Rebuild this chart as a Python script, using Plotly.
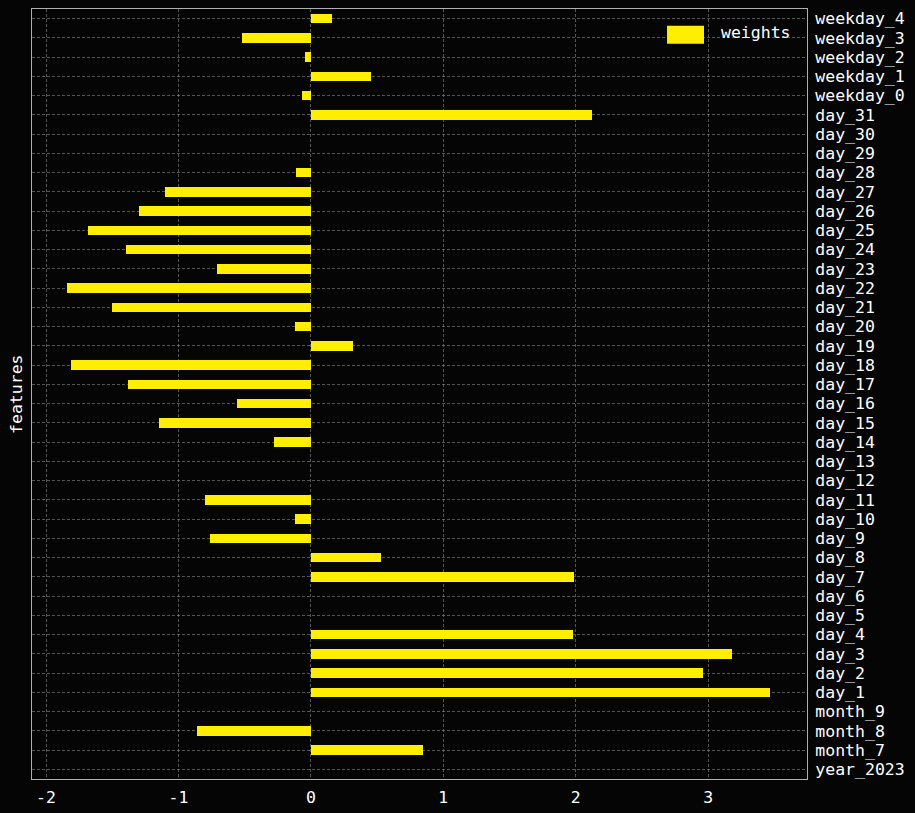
import plotly.graph_objects as go

features = ["year_2023", "month_7", "month_8", "month_9"] + \
    [f"day_{i}" for i in range(1, 32)] + [f"weekday_{i}" for i in range(5)]

weights = [
    0.0, 0.85, -0.86, 0.0,
    # day_1 .. day_31
    3.47, 2.96, 3.18, 1.98, 0.0, 0.0, 1.99, 0.527, -0.765, -0.12,
    -0.80, 0.0, 0.0, -0.28, -1.15, -0.56, -1.38, -1.81, 0.32, -0.12,
    -1.50, -1.84, -0.71, -1.40, -1.685, -1.30, -1.10, -0.115, 0.0, 0.0,
    2.125,
    # weekday_0 .. weekday_4
    -0.064, 0.457, -0.047, -0.52, 0.157,
]

x_ticks = [-2, -1, 0, 1, 2, 3]
legend_label = "weights"
bar_color = "#ffee00"
bg = "#050505"
font = "DejaVu Sans Mono"
grid_color = "rgba(150,150,150,0.55)"
spine = "#b0b0b0"

fig = go.Figure()
fig.add_trace(go.Bar(
    x=weights, y=features, orientation="h", width=0.5,
    marker=dict(color=bar_color, line=dict(width=0)),
    name=legend_label, showlegend=False,
))

fig.update_layout(
    width=915, height=813,
    margin=dict(l=32, r=108, t=9, b=34, autoexpand=False),
    paper_bgcolor=bg, plot_bgcolor=bg,
    font=dict(family=font, color="white", size=16.5),
    bargap=0,
)
fig.update_xaxes(
    range=[-2.106, 3.746], tickvals=x_ticks, ticktext=[str(t) for t in x_ticks],
    showgrid=True, gridcolor=grid_color, gridwidth=1, griddash="3px,2px",
    zeroline=False, showline=True, linecolor=spine, linewidth=1, mirror=True,
    ticks="outside", ticklen=3, tickcolor=bg, automargin=False,
    tickfont=dict(size=16.5, color="white"),
)
fig.update_yaxes(
    type="category", categoryorder="array", categoryarray=features,
    range=[-0.5, 39.5], side="right", dtick=1, tickmode="linear",
    showgrid=True, gridcolor=grid_color, gridwidth=1, griddash="3px,2px",
    zeroline=False, showline=True, linecolor=spine, linewidth=1, mirror=True,
    ticks="outside", ticklen=4, tickcolor=bg, automargin=False,
    tickfont=dict(size=16.5, color="white"),
    title=None,
)

# y-axis title on the left
fig.add_annotation(
    text="features", xref="paper", yref="paper", x=-0.0207, y=0.5,
    xanchor="center", yanchor="middle", textangle=-90, showarrow=False,
    font=dict(family=font, size=16.5, color="white"),
)

# legend (patch + label)
fig.add_shape(
    type="rect", xref="paper", yref="paper",
    x0=0.8194, x1=0.8671, y0=0.9549, y1=0.9783,
    fillcolor=bar_color, line=dict(width=0), layer="above",
)
fig.add_annotation(
    text=legend_label, xref="paper", yref="paper", x=0.8865, y=0.970,
    xanchor="left", yanchor="middle", showarrow=False,
    font=dict(family=font, size=16.5, color="white"),
)

fig.write_html("out.html")
